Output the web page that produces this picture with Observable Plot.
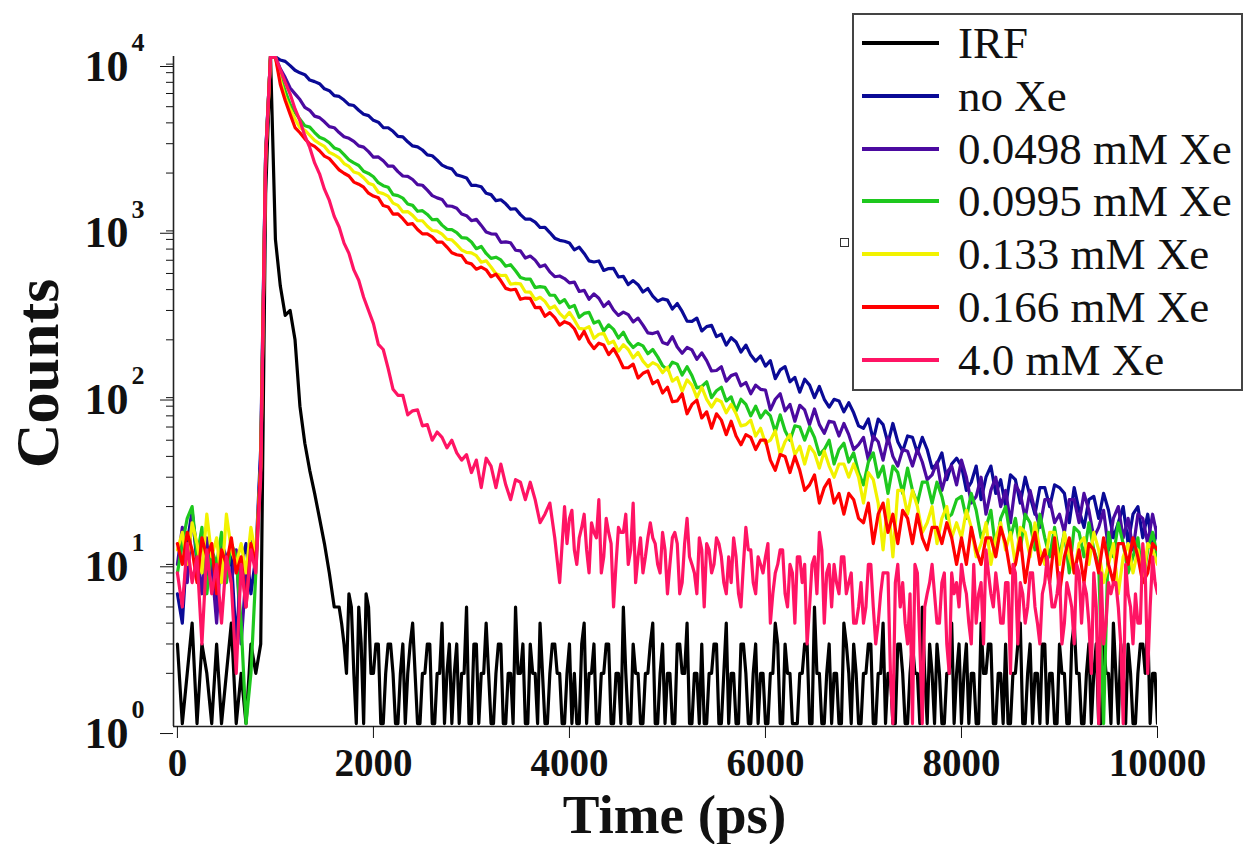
<!DOCTYPE html>
<html>
<head>
<meta charset="utf-8">
<script src="https://cdn.jsdelivr.net/npm/d3@7"></script>
<script src="https://cdn.jsdelivr.net/npm/@observablehq/plot@0.6"></script>
<style>
html, body { margin: 0; padding: 0; background: #fff; }
#wrap { position: relative; width: 1245px; height: 844px; overflow: hidden; font-family: "Liberation Serif", "Times New Roman", serif; }
#legend { position: absolute; left: 852px; top: 13px; width: 387px; height: 374px; border: 2px solid #444; background: #fff; }
.row { position: absolute; left: 0; height: 0; width: 100%; }
.swatch { position: absolute; left: 8px; width: 77px; height: 4px; top: -2px; }
.lab { position: absolute; left: 104px; top: 0; transform: translateY(-50%); font-size: 45px; line-height: 1; white-space: nowrap; color: #111; }
#marker { position: absolute; left: 840px; top: 238px; width: 7px; height: 7px; border: 1.5px solid #333; background: #fff; }
</style>
</head>
<body>
<div id="wrap"><div id="chart"></div><div id="legend"></div><div id="marker"></div></div>
<script>
// time channels (ps), 50 ps apart
const timePs = d3.range(0, 10001, 50);
// extra in-between channels (25 ps offset) read in the noisy tails
const irfMidTimePs = d3.range(1675, 10000, 50);
const xe40MidTimePs = d3.range(3975, 10000, 50);

const seriesNames = ["IRF", "no Xe", "0.0498 mM Xe", "0.0995 mM Xe", "0.133 mM Xe", "0.166 mM Xe", "4.0 mM Xe"];
const seriesColors = ["#000000", "#0a0a96", "#4b0aa0", "#1ec81e", "#f2f200", "#ff0000", "#ff1464"];

const irfCounts = [
  3, 1, 2, 4, 1, 3, 2, 1, 3, 1, 2, 4, 1, 2, 1, 3, 2, 3, 1500, 10000,
  800, 420, 280, 300, 200, 80, 48, 33, 24, 17, 12, 8, 5, 5, 3, 6, 2, 5, 1, 5,
  2, 3, 1, 3, 2, 1, 3, 2, 4, 1, 2, 3, 1, 2, 4, 2, 1, 3, 2, 5,
  1, 3, 2, 4, 1, 2, 3, 1, 2, 5, 2, 1, 3, 2, 4, 1, 2, 3, 2, 1,
  3, 2, 1, 4, 2, 3, 1, 2, 3, 1, 2, 5, 1, 3, 2, 1, 2, 4, 1, 3,
  2, 1, 3, 2, 4, 1, 2, 3, 1, 2, 3, 1, 4, 2, 1, 3, 2, 1, 3, 2,
  1, 2, 4, 1, 3, 2, 1, 2, 3, 1, 5, 2, 1, 3, 2, 1, 4, 2, 3, 1,
  2, 3, 1, 2, 4, 2, 1, 3, 2, 1, 3, 2, 5, 1, 2, 3, 1, 2, 4, 2,
  1, 3, 2, 1, 4, 2, 3, 1, 2, 3, 1, 2, 4, 1, 3, 2, 1, 3, 2, 1,
  3, 2, 1, 4, 2, 1, 3, 2, 1, 3, 2, 4, 1, 2, 3, 1, 2, 3, 4, 2,
  1
];
const irfMidCounts = [
  4, 2, 5, 1, 3, 6, 2, 3, 1, 2, 3, 1, 2, 1, 3, 2, 1, 2, 3, 1,
  2, 1, 3, 2, 1, 2, 1, 3, 1, 2, 2, 1, 3, 1, 2, 1, 2, 3, 1, 2,
  1, 2, 1, 3, 2, 1, 2, 1, 1, 3, 1, 2, 1, 2, 3, 1, 2, 1, 2, 1,
  2, 1, 2, 3, 1, 2, 1, 2, 1, 3, 2, 1, 2, 1, 1, 2, 3, 1, 2, 1,
  2, 1, 3, 1, 2, 1, 2, 1, 2, 3, 1, 2, 1, 1, 2, 3, 1, 2, 1, 2,
  1, 2, 1, 3, 1, 2, 1, 2, 3, 1, 2, 1, 2, 1, 3, 1, 2, 2, 1, 2,
  3, 1, 2, 1, 2, 1, 3, 2, 1, 2, 1, 2, 3, 1, 2, 1, 1, 2, 3, 1,
  2, 1, 2, 3, 1, 2, 1, 2, 1, 3, 2, 1, 2, 1, 3, 1, 2, 1, 2, 3,
  1, 2, 1, 3, 2, 1, 2
];

const noXeCounts = [
  6, 4, 12, 19, 9, 14, 7, 11, 5, 13, 8, 10, 3, 9, 12, 6, 10, 45, 2600, 10000,
  9950, 9520, 9350, 8820, 8270, 7980, 7780, 7220, 7070, 6870, 6400, 6240, 5820, 5760, 5480, 5150, 5080, 4760, 4510, 4420,
  4140, 4040, 3750, 3740, 3560, 3320, 3300, 3080, 2910, 2870, 2750, 2570, 2540, 2390, 2230, 2160, 2120, 1950, 1915, 1870,
  1689, 1686, 1655, 1513, 1485, 1366, 1383, 1308, 1214, 1222, 1127, 1058, 1058, 1016, 943, 944, 880, 814, 790, 780,
  761, 693, 719, 659, 595, 586, 594, 521, 535, 536, 476, 480, 429, 453, 428, 387, 406, 366, 341, 352,
  346, 306, 330, 296, 259, 258, 270, 226, 240, 244, 209, 216, 186, 206, 194, 169, 186, 162, 149, 160,
  139, 150, 117, 132, 138, 112, 119, 97, 116, 107, 90, 105, 88, 79, 88, 86, 74, 84, 73, 61,
  59, 67, 50, 67, 62, 48, 63, 49, 43, 53, 52, 42, 52, 44, 34, 36, 42, 29, 36, 39,
  35, 25, 28, 35, 22, 30, 35, 24, 29, 20, 31, 29, 21, 30, 23, 18, 26, 26, 20, 27,
  26, 24, 16, 26, 19, 15, 22, 23, 17, 24, 19, 13, 16, 20, 12, 18, 20, 13, 18, 11,
  15
];

const xe0498Counts = [
  9, 15, 7, 18, 11, 6, 13, 9, 4, 12, 10, 7, 11, 3, 8, 13, 9, 40, 2600, 10000,
  9900, 8430, 7470, 6470, 5970, 5520, 4960, 4760, 4390, 4300, 4060, 3800, 3740, 3500, 3300, 3230, 3100, 2910, 2860, 2690,
  2490, 2500, 2370, 2200, 2200, 2040, 1920, 1910, 1830, 1705, 1690, 1580, 1465, 1420, 1390, 1270, 1265, 1230, 1135, 1110,
  1036, 1055, 971, 887, 864, 861, 769, 773, 764, 689, 683, 619, 636, 601, 549, 562, 511, 478, 483, 466,
  439, 444, 390, 396, 350, 377, 355, 317, 338, 302, 280, 293, 283, 256, 270, 245, 220, 218, 223, 193,
  188, 209, 181, 166, 180, 174, 153, 167, 150, 130, 131, 138, 113, 122, 125, 106, 111, 95, 107, 101,
  100, 76, 88, 95, 75, 82, 65, 81, 76, 62, 77, 62, 55, 65, 64, 53, 63, 54, 44, 47,
  52, 38, 53, 49, 38, 52, 40, 35, 44, 43, 35, 44, 37, 29, 31, 37, 25, 32, 35, 27,
  38, 30, 21, 23, 30, 18, 25, 30, 20, 25, 16, 27, 24, 17, 25, 19, 15, 22, 22, 16,
  18, 14, 22, 22, 16, 24, 19, 13, 15, 19, 11, 17, 20, 13, 17, 11, 18, 17, 12, 18,
  13
];

const xe0995Counts = [
  8, 12, 17, 20, 10, 15, 6, 11, 9, 14, 7, 12, 10, 4, 1, 2, 8, 35, 2500, 10000,
  9950, 7510, 6210, 5160, 4630, 4200, 3840, 3770, 3500, 3280, 3190, 3040, 2830, 2760, 2580, 2400, 2300, 2220, 2050, 1990,
  1900, 1750, 1680, 1645, 1485, 1465, 1415, 1305, 1280, 1180, 1190, 1130, 1050, 1055, 975, 920, 915, 880, 820, 815,
  772, 704, 726, 659, 616, 626, 603, 553, 564, 519, 473, 463, 463, 411, 417, 413, 371, 370, 333, 348,
  312, 322, 273, 288, 292, 252, 259, 226, 246, 231, 205, 222, 195, 180, 190, 184, 165, 175, 158, 140,
  132, 147, 143, 123, 138, 122, 103, 105, 112, 90, 99, 104, 86, 91, 75, 88, 82, 70, 80, 68,
  75, 70, 56, 71, 57, 50, 61, 60, 50, 60, 52, 41, 44, 50, 36, 44, 48, 37, 42, 32,
  27, 37, 42, 30, 35, 24, 35, 32, 24, 34, 25, 21, 28, 28, 21, 28, 23, 17, 18, 22,
  23, 17, 24, 19, 13, 15, 19, 11, 17, 20, 13, 17, 11, 18, 16, 11, 18, 13, 10, 15,
  10, 14, 8, 15, 14, 10, 16, 11, 9, 1, 14, 10, 16, 12, 8, 10, 13, 7, 11, 14,
  10
];

const xe133Counts = [
  11, 14, 9, 16, 12, 8, 18, 10, 13, 7, 18, 11, 9, 12, 8, 15, 10, 35, 2400, 10000,
  9900, 7210, 5670, 4840, 4220, 3740, 3620, 3370, 3140, 3000, 2890, 2660, 2575, 2470, 2280, 2190, 2030, 1990, 1875, 1740,
  1695, 1535, 1505, 1455, 1320, 1280, 1170, 1175, 1115, 1035, 1035, 960, 905, 897, 861, 802, 796, 744, 691, 669,
  664, 639, 584, 595, 547, 498, 486, 487, 431, 436, 433, 387, 386, 348, 360, 340, 308, 319, 288, 270,
  292, 263, 234, 232, 240, 204, 216, 219, 190, 196, 171, 187, 175, 156, 168, 149, 138, 146, 141, 127,
  137, 113, 119, 98, 115, 107, 90, 104, 88, 79, 88, 85, 73, 82, 72, 61, 62, 66, 53, 59,
  48, 50, 57, 41, 49, 54, 41, 46, 36, 46, 42, 34, 43, 35, 30, 36, 36, 30, 36, 30,
  21, 32, 29, 21, 11, 22, 10, 25, 25, 18, 25, 20, 14, 16, 20, 12, 17, 20, 13, 16,
  13, 19, 15, 10, 12, 16, 9, 13, 16, 11, 14, 9, 15, 14, 10, 16, 11, 9, 14, 14,
  9, 14, 10, 8, 12, 13, 9, 14, 11, 7, 9, 12, 6, 10, 12, 8, 11, 7, 12, 11,
  9
];

const xe166Counts = [
  12, 9, 14, 11, 7, 13, 10, 12, 6, 11, 9, 13, 8, 10, 5, 12, 9, 35, 2400, 10000,
  9900, 6800, 5450, 4510, 3750, 3490, 3210, 2990, 2890, 2720, 2525, 2440, 2260, 2090, 1995, 1920, 1765, 1715, 1645, 1515,
  1455, 1420, 1277, 1253, 1133, 1137, 1065, 984, 994, 917, 863, 863, 829, 770, 772, 720, 666, 647, 640, 582,
  571, 530, 546, 526, 478, 495, 452, 407, 398, 402, 350, 356, 354, 312, 313, 277, 291, 272, 245, 257,
  250, 233, 202, 225, 194, 177, 191, 186, 163, 177, 157, 136, 136, 143, 118, 126, 130, 109, 114, 96,
  104, 85, 86, 95, 72, 82, 87, 68, 74, 59, 72, 66, 54, 65, 53, 47, 54, 52, 44, 50,
  50, 38, 33, 41, 40, 32, 40, 33, 25, 27, 31, 21, 26, 29, 21, 24, 18, 24, 22, 17,
  16, 21, 12, 18, 21, 14, 18, 12, 19, 17, 12, 18, 13, 11, 15, 15, 12, 16, 13, 9,
  13, 9, 15, 11, 9, 13, 13, 10, 15, 12, 8, 9, 13, 7, 11, 14, 9, 11, 7, 13,
  6, 10, 13, 8, 11, 7, 12, 11, 8, 13, 9, 7, 12, 12, 9, 13, 10, 7, 8, 12,
  11
];

const xe40Counts = [
  8, 5, 12, 7, 10, 3, 11, 6, 9, 4, 10, 7, 2, 9, 5, 11, 8, 30, 2500, 10000,
  9900, 8350, 7000, 5950, 4850, 4120, 3350, 2850, 2300, 1980, 1600, 1370, 1100, 950, 760, 660, 525, 455, 360, 300,
  250, 188, 175, 135, 101, 93, 93, 71, 75, 76, 61, 62, 50, 56, 52, 45, 50, 42, 38, 41,
  32, 38, 26, 39, 35, 26, 36, 27, 22, 29, 28, 22, 28, 22, 16, 18, 21, 13, 7, 20,
  17, 11, 13, 18, 8, 14, 22, 10, 14, 5, 15, 14, 9, 21, 10, 8, 13, 13, 9, 14,
  6, 13, 12, 7, 17, 9, 6, 11, 12, 8, 13, 10, 6, 7, 10, 5, 15, 11, 6, 9,
  10, 4, 8, 11, 6, 9, 4, 10, 9, 5, 10, 14, 4, 9, 9, 6, 10, 7, 4, 5,
  4, 9, 5, 4, 8, 8, 1, 9, 7, 3, 1, 8, 1, 6, 9, 4, 7, 3, 8, 7,
  9, 6, 3, 4, 7, 11, 6, 8, 4, 7, 2, 8, 7, 4, 8, 5, 3, 7, 7, 5,
  8, 4, 6, 3, 8, 7, 4, 8, 1, 3, 7, 7, 5, 1, 6, 3, 4, 12, 2, 10,
  6
];
const xe40MidCounts = [
  12, 19, 9, 15, 11, 16, 13, 8, 17, 12, 9, 14, 18, 11, 7, 13, 10, 16, 12, 8,
  11, 9, 14, 6, 12, 10, 8, 13, 5, 11, 9, 12, 7, 10, 13, 6, 9, 11, 7, 10,
  8, 12, 6, 9, 11, 5, 8, 10, 7, 3, 9, 6, 11, 8, 5, 7, 10, 6, 8, 4,
  7, 5, 9, 3, 6, 8, 2, 7, 5, 4, 6, 9, 3, 5, 7, 6, 4, 8, 2, 6,
  5, 7, 4, 9, 6, 3, 8, 5, 6, 4, 7, 9, 3, 6, 5, 8, 4, 6, 10, 5,
  6, 3, 7, 5, 9, 4, 6, 2, 5, 8, 4, 6, 7, 3, 9, 5, 6, 4, 8, 5,
  7
];

const xTickValues = [0, 2000, 4000, 6000, 8000, 10000];
const yMajorTicks = [1, 10, 100, 1000, 10000];
const yMinorTicks = [2,3,4,5,6,7,8,9, 20,30,40,50,60,70,80,90, 200,300,400,500,600,700,800,900, 2000,3000,4000,5000,6000,7000,8000,9000];
const xTitle = "Time (ps)";
const yTitle = "Counts";

const toRows = (times, vals) => vals.map((v, i) => ({t: times[i], v}));
const seriesRows = [
  toRows(timePs, irfCounts).concat(toRows(irfMidTimePs, irfMidCounts)),
  toRows(timePs, noXeCounts),
  toRows(timePs, xe0498Counts),
  toRows(timePs, xe0995Counts),
  toRows(timePs, xe133Counts),
  toRows(timePs, xe166Counts),
  toRows(timePs, xe40Counts).concat(toRows(xe40MidTimePs, xe40MidCounts))
].map(rows => rows.sort((a, b) => a.t - b.t));

const serif = '"Liberation Serif", "Times New Roman", serif';

const chart = Plot.plot({
  width: 1245,
  height: 844,
  marginLeft: 173,
  marginRight: 88,
  marginTop: 56,
  marginBottom: 118,
  style: {background: "transparent", fontFamily: serif, color: "#111"},
  x: {type: "linear", domain: [-40, 10000]},
  y: {type: "log", domain: [0.96, 10000]},
  marks: [
    ...seriesRows.map((rows, s) => Plot.line(rows, {x: "t", y: "v", stroke: seriesColors[s], strokeWidth: 3.2, clip: true})),
    Plot.ruleX([-40], {stroke: "#222", strokeWidth: 1.6}),
    Plot.ruleY([0.96], {stroke: "#222", strokeWidth: 1.6}),
    Plot.axisX({ticks: xTickValues, tickSize: 12, tickPadding: 10, tickFormat: d3.format("d"), fontSize: 39, fontWeight: "bold", label: null}),
    Plot.axisY({ticks: yMinorTicks, tickSize: 7, tickFormat: () => "", label: null}),
    Plot.axisY({ticks: yMajorTicks, tickSize: 13, tickPadding: 32, tickFormat: () => "10", fontSize: 44, fontWeight: "bold", dy: 10, label: null}),
    Plot.text(yMajorTicks, {frameAnchor: "left", y: d => d, text: d => String(Math.round(Math.log10(d))), dx: -42, dy: -14, textAnchor: "start", lineAnchor: "middle", fontSize: 26, fontWeight: "bold"}),
    Plot.text([xTitle], {frameAnchor: "bottom", text: d => d, dx: 9, dy: 88.4, textAnchor: "middle", lineAnchor: "middle", fontSize: 55, fontWeight: "bold"}),
    Plot.text([yTitle], {frameAnchor: "left", text: d => d, dx: -135, dy: -18, rotate: -90, textAnchor: "middle", lineAnchor: "middle", fontSize: 62, fontWeight: "bold"})
  ]
});
document.getElementById("chart").appendChild(chart);

// legend
const legend = document.getElementById("legend");
seriesNames.forEach((name, i) => {
  const row = document.createElement("div");
  row.className = "row";
  row.style.top = (28 + 52.8 * i) + "px";
  const sw = document.createElement("div");
  sw.className = "swatch";
  sw.style.background = seriesColors[i];
  const lab = document.createElement("div");
  lab.className = "lab";
  lab.textContent = name;
  row.appendChild(sw);
  row.appendChild(lab);
  legend.appendChild(row);
});
</script>
</body>
</html>
